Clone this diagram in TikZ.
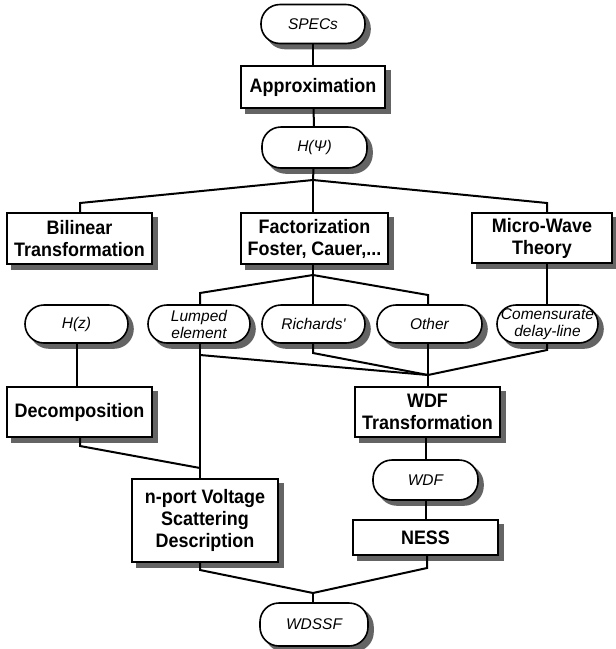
\documentclass[tikz,border=0pt]{standalone}
\usepackage{fontspec}
\setmainfont{Liberation Sans}
\newfontfamily\boldlabel[FakeStretch=0.92]{Liberation Sans}
\newfontfamily\itlabel{Liberation Sans}
\usetikzlibrary{calc}
\definecolor{shadowgray}{RGB}{100,100,100}

\tikzset{
  procbox/.style={draw, line width=1.6pt, fill=white, rectangle, inner sep=0pt,
      align=center,
      font=\boldlabel\bfseries\fontsize{19.5}{22}\selectfont},
  datacap/.style={draw, line width=1.6pt, fill=white, rounded corners=19pt,
      inner sep=0pt, align=center,
      font=\itlabel\itshape\fontsize{15.5}{17}\selectfont},
  castshadow/.style={draw=shadowgray, fill=shadowgray},
  link/.style={line width=2pt},
}

% node with an offset shadow: #1 style, #2 name, #3 x, #4 y, #5 width, #6 height, #7 text
\newcommand\shadednode[7]{%
  \node[#1, castshadow, minimum width=#5pt, minimum height=#6pt] at ({#3+5},{#4+5}) {};
  \node[#1, minimum width=#5pt, minimum height=#6pt] (#2) at (#3,#4) {#7};
}

\begin{document}
\begin{tikzpicture}[x=1pt, y=-1pt]
  \useasboundingbox (0,0) rectangle (616,649);

  % ---- top chain
  \shadednode{datacap}{specs}{313}{24}{104}{39}{SPECs}
  \shadednode{procbox}{approx}{313}{87}{144}{42}{Approximation}
  \shadednode{datacap}{hpsi}{314.5}{147.5}{105}{41}{H(Ψ)}

  % ---- three synthesis routes
  \shadednode{procbox}{bil}{79.5}{238.5}{145}{51}{Bilinear\\Transformation}
  \shadednode{procbox}{fact}{314.5}{238.5}{147}{51}{Factorization\\Foster, Cauer,...}
  \shadednode{procbox}{micro}{542}{238}{140}{50}{Micro-Wave\\Theory}

  % ---- intermediate descriptions
  \shadednode{datacap}{hz}{76.5}{324}{103}{38}{H(z)}
  \shadednode{datacap}{lump}{199}{324}{102}{38}{Lumped\\element}
  \shadednode{datacap}{rich}{313.5}{324}{103}{38}{Richards'}
  \shadednode{datacap}{other}{429.5}{324}{105}{38}{Other}
  \shadednode{datacap}{comen}{547.5}{324}{101}{38}{Comensurate\\delay-line}

  % ---- lower stages
  \shadednode{procbox}{decomp}{79.5}{412}{145}{50}{Decomposition}
  \shadednode{procbox}{wdft}{427.5}{412}{145}{50}{WDF\\Transformation}
  \shadednode{procbox}{nport}{205}{520.5}{146}{83}{n-port Voltage\\Scattering\\Description}
  \shadednode{datacap}{wdf}{425.5}{480}{105}{40}{WDF}
  \shadednode{procbox}{ness}{425.5}{537.5}{145}{35}{NESS}
  \shadednode{datacap}{wdssf}{314}{624.5}{108}{43}{WDSSF}

  % ---- junction and bend points
  \coordinate (j1) at (313,180);
  \coordinate (j2) at (313,275);
  \coordinate (j3) at (428,375);
  \coordinate (j4) at (313,593);
  \coordinate (bilin) at (80,203);
  \coordinate (microin) at (547,203);
  \coordinate (lumpin) at (200,293);
  \coordinate (otherin) at (428,295);
  \coordinate (hzline) at (77,0);
  \coordinate (lumpout) at (200,355);
  \coordinate (richout) at (313,353);
  \coordinate (comenout) at (547,350);
  \coordinate (decout) at (80,446);
  \coordinate (decjoin) at (200,468);
  \coordinate (nportout) at (200,570);
  \coordinate (nessout) at (427,568);

  % ---- connectors
  \draw[link] (specs) -- (approx);
  \draw[link] (approx) -- (hpsi);
  \draw[link] (hpsi) -- (j1);
  \draw[link] (j1) -- (bilin) -- (bilin |- bil.north);
  \draw[link] (j1) -- (j1 |- fact.north);
  \draw[link] (j1) -- (microin) -- (microin |- micro.north);

  \draw[link] (j1 |- fact.south) -- (j2);
  \draw[link] (j2) -- (lumpin) -- (lumpin |- lump.north);
  \draw[link] (j2) -- (j2 |- rich.north);
  \draw[link] (j2) -- (otherin) -- (otherin |- other.north);
  \draw[link] (microin |- micro.south) -- (microin |- comen.north);

  \draw[link] (hzline |- hz.south) -- (hzline |- decomp.north);
  \draw[link] (lumpout |- lump.south) -- (lumpout |- nport.north);
  \draw[link] (lumpout) -- (j3);
  \draw[link] (richout |- rich.south) -- (richout) -- (j3);
  \draw[link] (j3 |- other.south) -- (j3) -- (j3 |- wdft.north);
  \draw[link] (comenout |- comen.south) -- (comenout) -- (j3);

  \draw[link] (decout |- decomp.south) -- (decout) -- (decjoin);
  \draw[link] (wdf.north |- wdft.south) -- (wdf.north);
  \draw[link] (wdf) -- (ness);

  \draw[link] (nportout |- nport.south) -- (nportout) -- (j4);
  \draw[link] (nessout |- ness.south) -- (nessout) -- (j4);
  \draw[link] (j4) -- (j4 |- wdssf.north);
\end{tikzpicture}
\end{document}
